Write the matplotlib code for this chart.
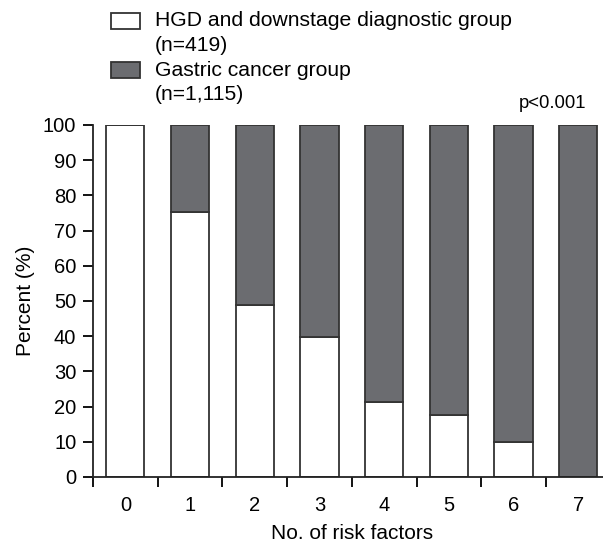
import numpy as np
import matplotlib.pyplot as plt
from matplotlib.patches import Rectangle

plt.rcParams['font.family'] = ['Liberation Sans', 'DejaVu Sans']

# risk factor counts and percent in HGD/downstage group
risk_factors = ['0', '1', '2', '3', '4', '5', '6', '7']
hgd_pct = [100, 75.2, 49.0, 39.8, 21.3, 17.6, 10.0, 0]
cancer_pct = [100 - v for v in hgd_pct]

legend_labels = [['HGD and downstage diagnostic group', '(n=419)'],
                 ['Gastric cancer group', '(n=1,115)']]

gray = '#6b6c70'
edge = '#333333'
W, H = 603, 543

fig = plt.figure(figsize=(W / 100, H / 100), dpi=100)
ax = fig.add_axes([93 / W, 66 / H, 517.6 / W, 352 / H])

x = np.arange(len(risk_factors))
ax.bar(x, hgd_pct, width=0.59, color='white', edgecolor=edge, linewidth=1.3)
ax.bar(x, cancer_pct, bottom=hgd_pct, width=0.59, color=gray, edgecolor=edge, linewidth=1.3)

ax.set_xlim(-0.5, 7.5)
ax.set_ylim(0, 100)
ax.set_yticks(range(0, 101, 10))
ax.set_xticks(np.arange(-0.5, 7.5, 1))
ax.set_xticklabels([])
ax.set_xticks(x, minor=True)
ax.set_xticklabels(risk_factors, minor=True)
ax.tick_params(axis='x', which='minor', length=0, pad=14, labelsize=14.5)
ax.tick_params(axis='x', which='major', length=7, width=1.3, direction='out')
ax.tick_params(axis='y', length=7, width=1.3, labelsize=14.5, pad=5)

for s in ['top', 'right']:
    ax.spines[s].set_visible(False)
for s in ['left', 'bottom']:
    ax.spines[s].set_linewidth(1.3)
    ax.spines[s].set_color('#222222')

ax.set_ylabel('Percent (%)', fontsize=15, labelpad=6)
ax.set_xlabel('No. of risk factors', fontsize=15, labelpad=6)

fig.text(586 / W, 1 - 103 / H, 'p<0.001', ha='right', va='center', fontsize=13.3)

# legend drawn by hand so the box sits beside the first line
for i, (lines, fc) in enumerate(zip(legend_labels, ['white', gray])):
    y0 = 21 + i * 49
    fig.patches.append(Rectangle((111 / W, 1 - (y0 + 8) / H), 29 / W, 16 / H,
                                 transform=fig.transFigure, facecolor=fc,
                                 edgecolor=edge, linewidth=1.3))
    for j, line in enumerate(lines):
        fig.text(155 / W, 1 - (y0 + j * 24.5) / H, line, ha='left',
                 va='center', fontsize=15.2)

fig.savefig('out.png', dpi=100)
